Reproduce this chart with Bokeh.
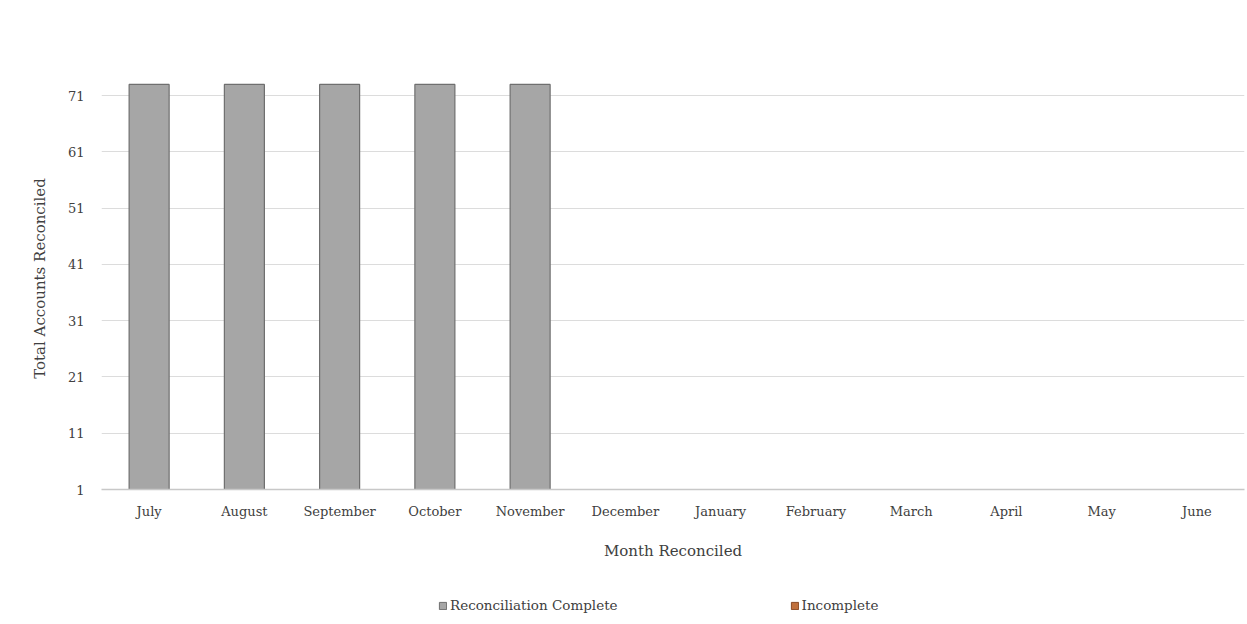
from bokeh.plotting import figure
from bokeh.layouts import column
from bokeh.models import FactorRange, Range1d, Legend, LegendItem, FixedTicker, ColumnDataSource
from bokeh.embed import file_html
from bokeh.resources import INLINE

months = ["July", "August", "September", "October", "November", "December",
          "January", "February", "March", "April", "May", "June"]
complete = [73, 73, 73, 73, 73, 0, 0, 0, 0, 0, 0, 0]
incomplete = [0, 0, 0, 0, 0, 0, 0, 0, 0, 0, 0, 0]
y_ticks = [1, 11, 21, 31, 41, 51, 61, 71]
series_names = ["Reconciliation Complete", "Incomplete"]
series_colors = ["#a6a6a6", "#c0703c"]
series_lines = ["#6f6f6f", "#8a4a25"]

FONT = "DejaVu Serif"
TXT = "#404040"

src = ColumnDataSource(dict(month=months, complete=complete, incomplete=incomplete))

p = figure(x_range=FactorRange(*months), y_range=Range1d(1, 76),
           width=1247, height=580, output_backend="svg", toolbar_location=None,
           min_border_left=101, min_border_right=3, min_border_top=67, min_border_bottom=91)

r = p.vbar_stack(["complete", "incomplete"], x="month", width=0.42, source=src,
                 color=series_colors, line_color=[series_lines[0], None], line_width=1.2)

p.outline_line_color = None
p.xgrid.grid_line_color = None
p.ygrid.grid_line_color = "#dcdcdc"
p.ygrid.grid_line_width = 1.2
p.yaxis.ticker = FixedTicker(ticks=y_ticks)
p.yaxis.axis_line_color = None
p.yaxis.major_tick_line_color = None
p.yaxis.minor_tick_line_color = None
p.xaxis.axis_line_color = "#c8c8c8"
p.xaxis.axis_line_width = 1.5
p.xaxis.major_tick_line_color = None
p.xaxis.minor_tick_line_color = None
for ax in (p.xaxis, p.yaxis):
    ax.major_label_text_font = FONT
    ax.major_label_text_font_size = "13px"
    ax.major_label_text_color = TXT
    ax.axis_label_text_font = FONT
    ax.axis_label_text_font_size = "15px"
    ax.axis_label_text_font_style = "normal"
    ax.axis_label_text_color = TXT
p.yaxis.major_label_standoff = 11
p.xaxis.major_label_standoff = 8
p.xaxis.axis_label = "Month Reconciled"
p.yaxis.axis_label = "Total Accounts Reconciled"
p.xaxis.axis_label_standoff = 20
p.yaxis.axis_label_standoff = 16

# legend strip below the chart (its frame is aligned with the chart frame)
p2 = figure(x_range=Range1d(0, 1), y_range=Range1d(0, 1), width=1247, height=44,
            output_backend="svg", toolbar_location=None, min_border=0,
            x_axis_location=None, y_axis_location=None)
p2.outline_line_color = None
p2.grid.grid_line_color = None
# legend-only renderers: their data lies outside the visible range
key_src = ColumnDataSource(dict(x=[-5.0], top=[-5.0]))
lr = [p2.vbar(x="x", top="top", width=0.5, source=key_src, fill_color=c, line_color=lc)
      for c, lc in zip(series_colors, series_lines)]
legend = Legend(items=[LegendItem(label=n, renderers=[g]) for n, g in zip(series_names, lr)],
                orientation="horizontal", location=(337, 11), spacing=172,
                label_text_font=FONT, label_text_font_size="13.5px", label_text_color=TXT,
                glyph_width=9, glyph_height=9, label_standoff=3,
                border_line_color=None, background_fill_alpha=0, margin=0, padding=4)
p2.add_layout(legend, "center")

layout = column(p, p2, spacing=0)
open("out.html", "w").write(file_html(layout, INLINE))
